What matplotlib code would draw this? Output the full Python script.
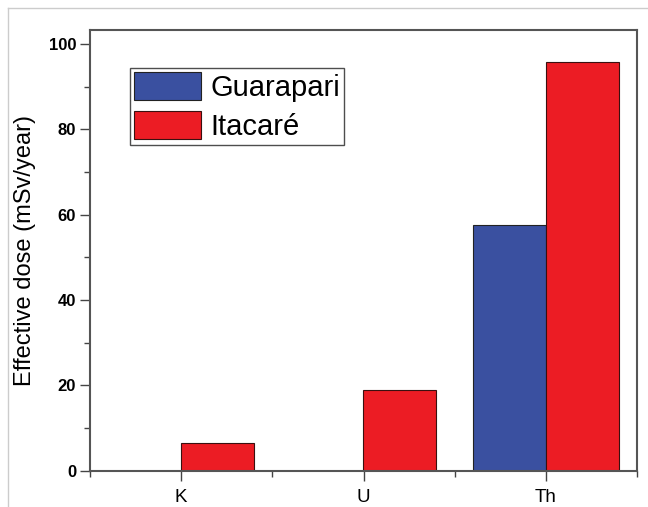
import numpy as np
import matplotlib.pyplot as plt
from matplotlib.lines import Line2D
from matplotlib.ticker import MultipleLocator

plt.rcParams['font.family'] = ['Liberation Sans', 'DejaVu Sans']

# data
elements = ["K", "U", "Th"]
guarapari = [0.0, 0.0, 57.7]
itacare = [6.6, 18.8, 95.8]

fig = plt.figure(figsize=(6.48, 5.07), dpi=100)
ax = fig.add_axes([90 / 648, 36.3 / 507, 547 / 648, 440.7 / 507])

x = np.arange(len(elements))
w = 0.4
ax.bar(x - w / 2, guarapari, w, color='#3a50a0', edgecolor='#222222',
       linewidth=0.8, label='Guarapari')
ax.bar(x + w / 2, itacare, w, color='#ec1c24', edgecolor='#3a1010',
       linewidth=0.8, label='Itacaré')

ax.set_xlim(-0.5, 2.5)
ax.set_ylim(0, 103.3)
ax.set_xticks(x)
ax.set_xticklabels(elements, fontsize=13.5)
ax.xaxis.set_minor_locator(MultipleLocator(1, offset=0.5))
ax.yaxis.set_major_locator(MultipleLocator(20))
ax.yaxis.set_minor_locator(MultipleLocator(10))
for lab in ax.get_yticklabels():
    lab.set_fontweight('bold')
    lab.set_fontsize(12)
ax.tick_params(axis='both', which='major', direction='out', length=7,
               width=1, color='#444444')
ax.tick_params(axis='both', which='minor', direction='out', length=4,
               width=1, color='#444444')
ax.tick_params(axis='y', pad=3)
ax.tick_params(axis='x', pad=6)
for s in ax.spines.values():
    s.set_color('#555555')
    s.set_linewidth(1.5)

ax.set_ylabel("Effective dose (mSv/year)", fontsize=17)
ax.yaxis.set_label_coords(-0.098, 0.5)

leg = ax.legend(loc='upper left', bbox_to_anchor=(0.073, 0.914), fontsize=21,
                frameon=True, fancybox=False, edgecolor='#222222',
                handlelength=2.3, handleheight=1.1, borderpad=0.15,
                labelspacing=0.3, handletextpad=0.3, borderaxespad=0)
leg.get_frame().set_linewidth(1.0)

# light outer border as in the source image
fig.add_artist(Line2D([8 / 648, 1], [1 - 8 / 507, 1 - 8 / 507],
                      color='#cccccc', linewidth=1, transform=fig.transFigure))
fig.add_artist(Line2D([8 / 648, 8 / 648], [0, 1 - 8 / 507],
                      color='#cccccc', linewidth=1, transform=fig.transFigure))

plt.savefig("out.png", dpi=100)
